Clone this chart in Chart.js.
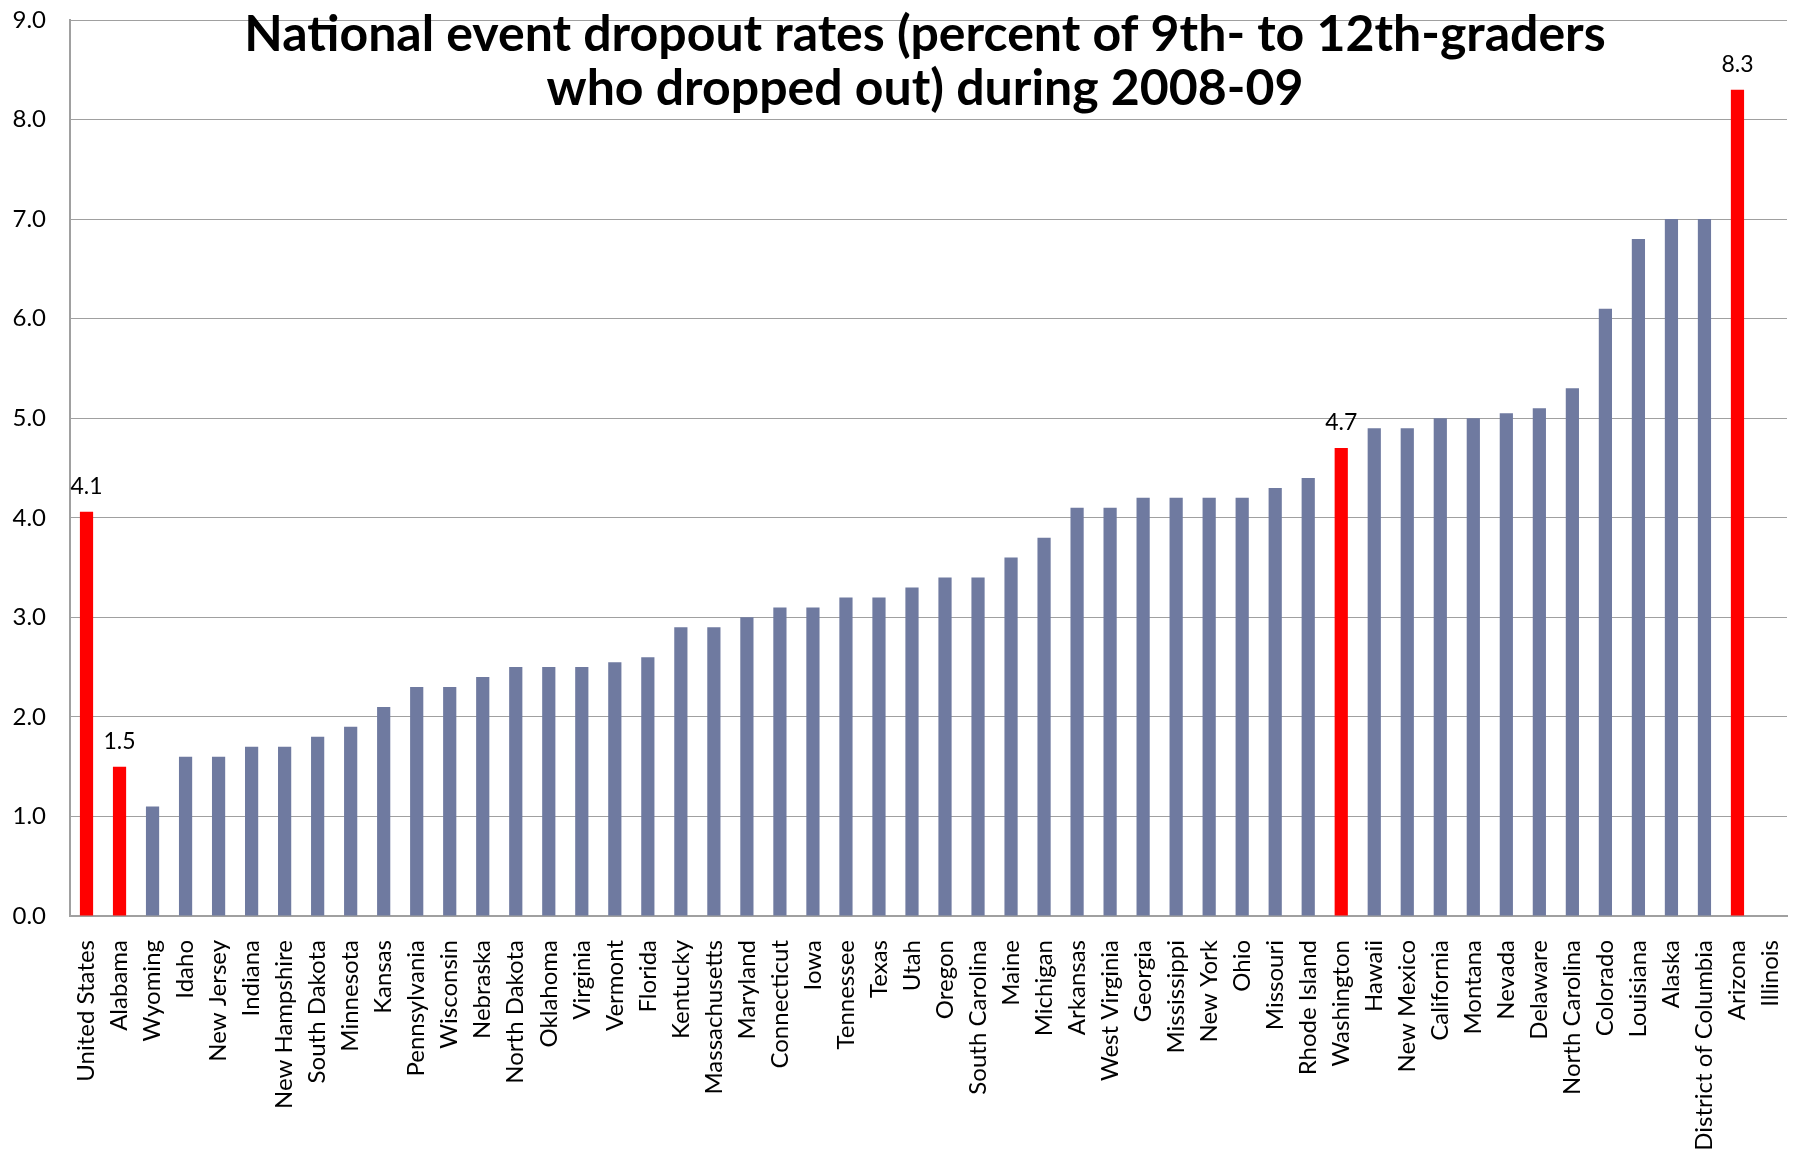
<!DOCTYPE html>
<html>
<head>
<meta charset="utf-8">
<script src="https://cdn.jsdelivr.net/npm/chart.js@4/dist/chart.umd.min.js"></script>
<style>
  html, body { margin: 0; padding: 0; background: #fff; }
  #wrap { width: 1795px; height: 1162px; position: relative; }
</style>
</head>
<body>
<div id="wrap"><canvas id="dropoutChart"></canvas></div>
<script>
// Data
const states = ['United States', 'Alabama', 'Wyoming', 'Idaho', 'New Jersey', 'Indiana', 'New Hampshire',
  'South Dakota', 'Minnesota', 'Kansas', 'Pennsylvania', 'Wisconsin', 'Nebraska', 'North Dakota', 'Oklahoma',
  'Virginia', 'Vermont', 'Florida', 'Kentucky', 'Massachusetts', 'Maryland', 'Connecticut', 'Iowa', 'Tennessee',
  'Texas', 'Utah', 'Oregon', 'South Carolina', 'Maine', 'Michigan', 'Arkansas', 'West Virginia', 'Georgia',
  'Mississippi', 'New York', 'Ohio', 'Missouri', 'Rhode Island', 'Washington', 'Hawaii', 'New Mexico',
  'California', 'Montana', 'Nevada', 'Delaware', 'North Carolina', 'Colorado', 'Louisiana', 'Alaska',
  'District of Columbia', 'Arizona', 'Illinois'];
const rates = [4.06, 1.5, 1.1, 1.6, 1.6, 1.7, 1.7, 1.8, 1.9, 2.1, 2.3, 2.3, 2.4, 2.5, 2.5, 2.5, 2.55, 2.6,
  2.9, 2.9, 3.0, 3.1, 3.1, 3.2, 3.2, 3.3, 3.4, 3.4, 3.6, 3.8, 4.1, 4.1, 4.2, 4.2, 4.2, 4.2, 4.3, 4.4, 4.7,
  4.9, 4.9, 5.0, 5.0, 5.05, 5.1, 5.3, 6.1, 6.8, 7.0, 7.0, 8.3, null];
const highlighted = ['United States', 'Alabama', 'Washington', 'Arizona'];
const yTicks = [0, 1, 2, 3, 4, 5, 6, 7, 8, 9];
const titleLines = ['National event dropout rates (percent of 9th- to 12th-graders', 'who dropped out) during 2008-09'];

const FONT = 'Lato, "Open Sans", sans-serif';
const barColors = states.map(s => highlighted.includes(s) ? '#ff0000' : '#6f7aa0');

// Labels only on red bars
const valueLabels = {
  id: 'valueLabels',
  afterDatasetsDraw(chart) {
    const ctx = chart.ctx;
    const meta = chart.getDatasetMeta(0);
    ctx.save();
    ctx.font = '23px ' + FONT;
    ctx.fillStyle = '#000';
    ctx.textAlign = 'center';
    ctx.textBaseline = 'alphabetic';
    meta.data.forEach((bar, i) => {
      if (!highlighted.includes(states[i]) || rates[i] == null) return;
      ctx.fillText(rates[i].toFixed(1), bar.x, bar.y - 18);
    });
    ctx.restore();
  }
};

// Title sits inside the plot area
const overlayTitle = {
  id: 'overlayTitle',
  afterDraw(chart) {
    const ctx = chart.ctx;
    ctx.save();
    ctx.font = 'bold 50px ' + FONT;
    ctx.fillStyle = '#000';
    ctx.textAlign = 'center';
    ctx.textBaseline = 'middle';
    ctx.fillText(titleLines[0], 925, 35);
    ctx.fillText(titleLines[1], 925, 89);
    ctx.restore();
  }
};

new Chart(document.getElementById('dropoutChart'), {
  type: 'bar',
  data: {
    labels: states,
    datasets: [{
      data: rates,
      backgroundColor: barColors,
      barPercentage: 0.4,
      categoryPercentage: 1.0
    }]
  },
  options: {
    responsive: true,
    maintainAspectRatio: false,
    animation: false,
    layout: { padding: { top: 20, right: 8, left: 0, bottom: 0 } },
    plugins: { legend: { display: false }, title: { display: false }, tooltip: { enabled: false } },
    scales: {
      x: {
        grid: { display: false, drawTicks: false },
        border: { color: '#a0a0a0', width: 2 },
        ticks: {
          color: '#000',
          font: { family: FONT, size: 24 },
          minRotation: 90,
          maxRotation: 90,
          autoSkip: false,
          padding: 24
        },
        afterFit(scale) {
          scale.height = 246;
          scale.paddingLeft = 0;
          scale.paddingRight = 0;
        }
      },
      y: {
        min: 0,
        max: 9,
        afterBuildTicks(scale) { scale.ticks = yTicks.map(v => ({ value: v })); },
        grid: { color: '#a0a0a0', lineWidth: 1, drawTicks: false },
        border: { color: '#a0a0a0', width: 2 },
        ticks: {
          color: '#000',
          font: { family: FONT, size: 24 },
          padding: 24,
          callback: v => v.toFixed(1)
        },
        afterFit(scale) {
          scale.width = 70;
          scale.paddingTop = 0;
          scale.paddingBottom = 0;
        }
      }
    }
  },
  plugins: [valueLabels, overlayTitle]
});
</script>
</body>
</html>
